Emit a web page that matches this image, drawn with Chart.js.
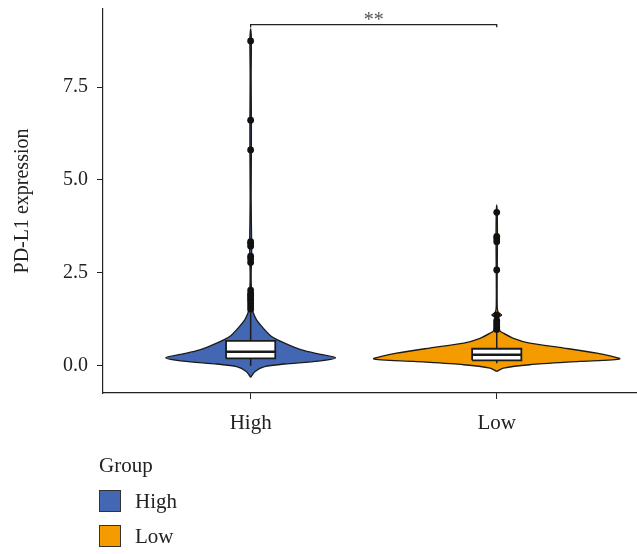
<!DOCTYPE html>
<html>
<head>
<meta charset="utf-8">
<script src="https://cdn.jsdelivr.net/npm/chart.js@4.4.1/dist/chart.umd.min.js"></script>
<style>
    html, body { margin: 0; padding: 0; background: #fff; }
    #wrap { position: relative; width: 637px; height: 554px; }
    #legend { position: absolute; left: 99px; top: 454px; font-family: 'Liberation Serif', serif; font-size: 21px; color: #222; }
    #legend .row { display: flex; align-items: center; height: 22px; }
    #legend .title { margin-bottom: 14px; }
    #legend .item { margin-bottom: 13px; }
    #legend .swatch { width: 20px; height: 20px; border: 1px solid #333; margin-right: 14px; }
</style>
</head>
<body>
<div id="wrap">
    <canvas id="violinChart" width="637" height="554"></canvas>
    <div id="legend"></div>
</div>
<script>
const groups = ['High', 'Low'];
const groupColors = ['#4467B4', '#F49B00'];

// density outline of each group: expression value and half width (x units)
const highDensityY = [-0.31, -0.15, -0.02, 0.05, 0.13, 0.22, 0.32, 0.43, 0.61, 0.79, 1.01, 1.24, 1.42, 1.6, 1.75, 1.9, 2.1, 2.5, 2.9, 3.3, 4.5, 5.8, 6.6, 7.8, 8.75, 9.07];
const highDensityW = [0, 0.018, 0.057, 0.138, 0.275, 0.345, 0.275, 0.207, 0.138, 0.085, 0.052, 0.024, 0.011, 0.005, 0.007, 0.006, 0.003, 0.002, 0.004, 0.004, 0.002, 0.003, 0.003, 0.002, 0.003, 0];
const lowDensityY = [-0.15, -0.06, 0.03, 0.12, 0.19, 0.34, 0.48, 0.61, 0.74, 0.88, 0.95, 1.1, 1.3, 1.37, 1.44, 1.6, 2.58, 3.4, 4.13, 4.33];
const lowDensityW = [0, 0.027, 0.134, 0.337, 0.5, 0.407, 0.272, 0.134, 0.068, 0.027, 0.012, 0.007, 0.006, 0.02, 0.006, 0.002, 0.002, 0.003, 0.002, 0];

// box stats: lower whisker, q1, median, q3, upper whisker
const highBox = [0.0, 0.2, 0.38, 0.67, 1.42];
const lowBox = [0.07, 0.15, 0.30, 0.46, 0.92];

const highOutliers = [8.74, 6.61, 5.81, 3.34, 3.3, 3.22, 2.95, 2.88, 2.78, 2.04, 1.95, 1.9, 1.85, 1.8, 1.75, 1.68, 1.6, 1.52];
const lowOutliers = [4.13, 3.48, 3.42, 3.34, 2.58, 1.37, 1.22, 1.16, 1.1, 1.04, 0.98];

const yTicks = [0, 2.5, 5, 7.5];
const sigLabel = '**';
const bracketY = 9.18;
const bracketTips = [9.1, 9.11];

const BOX_HALF = 0.1;
const LINE_COLOR = '#1b1b1b';
const FONT = 'Liberation Serif';

function violinOutline(center, ys, ws) {
    const right = ys.map((y, i) => ({ x: center + ws[i], y: y }));
    const left = ys.map((y, i) => ({ x: center - ws[i], y: y })).reverse();
    return right.concat(left.slice(1));
}

function boxOutline(center, stats) {
    return [
        { x: center - BOX_HALF, y: stats[1] },
        { x: center + BOX_HALF, y: stats[1] },
        { x: center + BOX_HALF, y: stats[3] },
        { x: center - BOX_HALF, y: stats[3] },
        { x: center - BOX_HALF, y: stats[1] }
    ];
}

const densities = [[highDensityY, highDensityW], [lowDensityY, lowDensityW]];
const boxes = [highBox, lowBox];
const outliers = [highOutliers, lowOutliers];

const datasets = [];
groups.forEach((name, i) => {
    const c = i + 1;
    datasets.push({
        label: name,
        data: violinOutline(c, densities[i][0], densities[i][1]),
        backgroundColor: groupColors[i],
        borderColor: LINE_COLOR,
        borderWidth: 1.3,
        fill: 'shape',
        tension: 0.25,
        pointRadius: 0,
        order: 5
    });
    datasets.push({
        data: [{ x: c, y: boxes[i][0] }, { x: c, y: boxes[i][4] }],
        borderColor: LINE_COLOR,
        borderWidth: 1.5,
        fill: false,
        pointRadius: 0,
        order: 4
    });
    datasets.push({
        data: boxOutline(c, boxes[i]),
        backgroundColor: '#ffffff',
        borderColor: LINE_COLOR,
        borderWidth: 1.8,
        fill: 'shape',
        tension: 0,
        pointRadius: 0,
        order: 3
    });
    datasets.push({
        data: [{ x: c - BOX_HALF, y: boxes[i][2] }, { x: c + BOX_HALF, y: boxes[i][2] }],
        borderColor: LINE_COLOR,
        borderWidth: 2.6,
        fill: false,
        pointRadius: 0,
        order: 2
    });
    datasets.push({
        data: outliers[i].map(v => ({ x: c, y: v })),
        showLine: false,
        pointRadius: 3.4,
        pointBackgroundColor: '#111',
        pointBorderWidth: 0,
        order: 1
    });
});

// significance bracket between the two groups
datasets.push({
    data: [
        { x: 1, y: bracketTips[0] },
        { x: 1, y: bracketY },
        { x: 2, y: bracketY },
        { x: 2, y: bracketTips[1] }
    ],
    borderColor: '#222',
    borderWidth: 1.3,
    fill: false,
    pointRadius: 0,
    tension: 0,
    order: 0
});

const sigPlugin = {
    id: 'sigLabel',
    afterDatasetsDraw(chart) {
        const { ctx, scales: { x, y } } = chart;
        ctx.save();
        ctx.font = `20px "${FONT}"`;
        ctx.fillStyle = '#555';
        ctx.textAlign = 'center';
        ctx.textBaseline = 'alphabetic';
        ctx.fillText(sigLabel, x.getPixelForValue(1.5), y.getPixelForValue(bracketY) + 1);
        ctx.restore();
    }
};

const ctx = document.getElementById('violinChart').getContext('2d');
new Chart(ctx, {
    type: 'line',
    data: { datasets: datasets },
    options: {
        responsive: false,
        animation: false,
        layout: { autoPadding: false, padding: { top: 9, left: 0, right: 0, bottom: 0 } },
        plugins: {
            legend: { display: false },
            tooltip: { enabled: false }
        },
        scales: {
            x: {
                type: 'linear',
                min: 0.4,
                max: 2.57,
                afterBuildTicks: scale => { scale.ticks = [{ value: 1 }, { value: 2 }]; },
                afterFit: scale => {
                    scale.height = 161;
                    scale.paddingLeft = 0;
                    scale.paddingRight = 0;
                },
                ticks: {
                    callback: v => groups[v - 1],
                    font: { family: FONT, size: 21 },
                    color: '#222',
                    padding: 12,
                    maxRotation: 0
                },
                grid: { drawOnChartArea: false, drawTicks: true, tickLength: 6, color: '#222' },
                border: { display: true, color: '#222', width: 1.2 }
            },
            y: {
                min: -0.73,
                max: 9.6,
                afterBuildTicks: scale => { scale.ticks = yTicks.map(v => ({ value: v })); },
                afterFit: scale => {
                    scale.width = 103;
                    scale.paddingTop = 0;
                    scale.paddingBottom = 0;
                },
                ticks: {
                    callback: v => v.toFixed(1),
                    font: { family: FONT, size: 20 },
                    color: '#222',
                    padding: 9
                },
                grid: { drawOnChartArea: false, drawTicks: true, tickLength: 6, color: '#222' },
                border: { display: true, color: '#222', width: 1.2 },
                title: {
                    display: true,
                    text: 'PD-L1 expression',
                    font: { family: FONT, size: 20 },
                    color: '#222',
                    padding: { top: 11, bottom: 0 }
                }
            }
        }
    },
    plugins: [sigPlugin]
});

// group legend under the plot
const legend = document.getElementById('legend');
legend.innerHTML = '<div class="row title">Group</div>' + groups.map((g, i) =>
    `<div class="row item"><span class="swatch" style="background:${groupColors[i]}"></span>${g}</div>`
).join('');
</script>
</body>
</html>
